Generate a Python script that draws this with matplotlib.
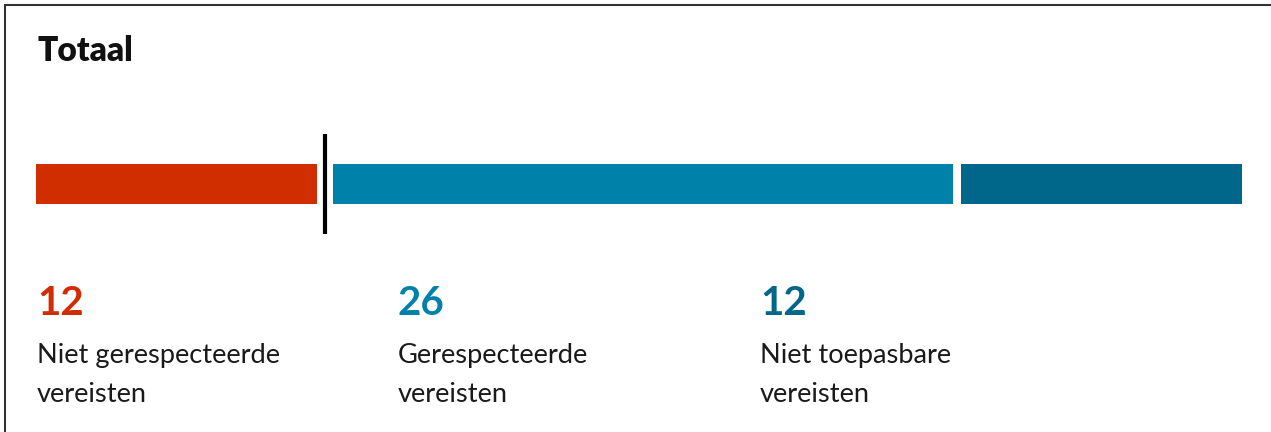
import matplotlib.pyplot as plt
from matplotlib.patches import Rectangle

W, H = 1271, 432

categories = ['Niet gerespecteerde\nvereisten', 'Gerespecteerde\nvereisten', 'Niet toepasbare\nvereisten']
values = [12, 26, 12]
colors = ['#d02d00', '#0081aa', '#00678a']
title = 'Totaal'
marker_at = 12  # black line after first segment

plt.rcParams['font.family'] = ['Lato', 'DejaVu Sans']

fig = plt.figure(figsize=(W / 100, H / 100), dpi=100)

# outer box (only left and top are inside the image)
fig.patches.append(Rectangle((5 / W, -0.1), 2, (H - 5) / H + 0.1, transform=fig.transFigure,
                             fill=False, edgecolor='#333333', linewidth=1.5))

fig.text(37 / W, 1 - 61 / H, title, fontsize=24, fontweight='heavy', color='#111111', va='baseline')

# stacked bar
ax = fig.add_axes([36 / W, (H - 234) / H, (1242 - 36) / W, 100 / H])
ax.set_xlim(0, sum(values))
ax.set_ylim(0, 1)
ax.axis('off')
gap = 8 / 1206 * sum(values)
left = 0
for i, (v, c) in enumerate(zip(values, colors)):
    start = left + (gap if i > 0 else 0)
    end = left + v - (gap if i == 0 else 0)
    ax.barh(0.5, end - start, left=start, height=0.4, color=c)
    left += v
ax.axvline(marker_at, color='black', linewidth=3)

# labels below
col_x = [37, 398, 760]
for x, v, c, lab in zip(col_x, values, colors, categories):
    fig.text(x / W, 1 - 315 / H, str(v), fontsize=29, fontweight='bold', color=c, va='baseline')
    for j, line in enumerate(lab.split('\n')):
        fig.text(x / W, 1 - (363 + 39 * j) / H, line, fontsize=19.6, color='#1a1a1a', va='baseline')

fig.savefig('out.png', dpi=100)
